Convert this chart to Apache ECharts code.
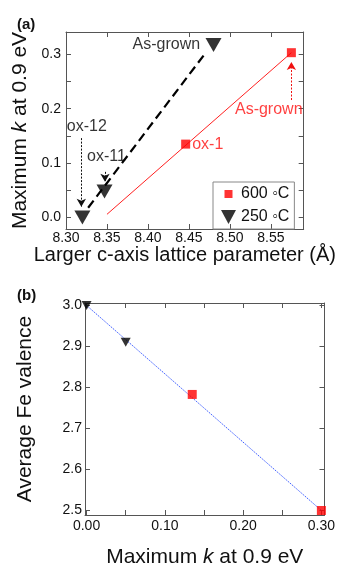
<!DOCTYPE html>
<html><head><meta charset="utf-8">
<script src="https://cdn.jsdelivr.net/npm/echarts@6/dist/echarts.min.js"></script>
<style>html,body{margin:0;padding:0;background:#fff}#c{width:338px;height:569px}</style>
</head><body><div id="c"></div>
<script>
// ---- Panel (a) data ----
const lattice250 = [8.320, 8.347, 8.480];
const kMax250 = [0.000, 0.048, 0.317];
const lattice600 = [8.446, 8.575];
const kMax600 = [0.135, 0.303];
const fit250X = [8.327, 8.470];
const fit250Y = [0.018, 0.302];
const fit600X = [8.350, 8.575];
const fit600Y = [0.006, 0.303];
const aXLabels = [8.30, 8.35, 8.40, 8.45, 8.50, 8.55];
const aYLabels = [0.0, 0.1, 0.2, 0.3];
const aYTicks = [0.0, 0.05, 0.1, 0.15, 0.2, 0.25, 0.3];
// annotations (panel a)
const annText = ['ox-12', 'ox-11', 'As-grown', 'As-grown'];
const annX = [8.326, 8.350, 8.423, 8.548];
const annY = [0.166, 0.111, 0.317, 0.198];
const annColor = ['#000000', '#000000', '#000000', '#ff1010'];
const arrowX = [8.3187, 8.3476, 8.575];
const arrowFromY = [0.146, 0.084, 0.216];
const arrowToY = [0.020, 0.066, 0.286];
const arrowColor = ['#111', '#111', '#f01010'];

// ---- Panel (b) data ----
const kB250 = [0.000, 0.050];
const valence250 = [3.000, 2.910];
const kB600 = [0.135, 0.300];
const valence600 = [2.783, 2.500];
const fitBX = [0.000, 0.300];
const fitBY = [3.000, 2.500];
const bXLabels = [0.00, 0.10, 0.20, 0.30];
const bXTicks = [0.00, 0.05, 0.10, 0.15, 0.20, 0.25, 0.30];
const bYLabels = [2.5, 2.6, 2.7, 2.8, 2.9, 3.0];

const name600 = '600 \u25E6C';
const name250 = '250 \u25E6C';
const zip = (a, b) => a.map((v, i) => [v, b[i]]);
const FONT = '"Liberation Sans", Arial, sans-serif';
const frame = '#555';
const txt = '#111';

function ax(opts) {
  const base = {
    type: 'value',
    scale: true,
    axisLine: {show: true, onZero: false, lineStyle: {color: frame, width: 1}},
    axisTick: {show: true, inside: true, length: 5, lineStyle: {color: frame}},
    splitLine: {show: false},
    axisLabel: {show: true, color: txt, fontSize: 14, fontFamily: FONT},
    nameTextStyle: {color: txt, fontSize: 21, fontFamily: FONT}
  };
  return Object.assign(base, opts, {
    axisTick: Object.assign({}, base.axisTick, opts.axisTick || {}),
    axisLabel: Object.assign({}, base.axisLabel, opts.axisLabel || {}),
    nameTextStyle: Object.assign({}, base.nameTextStyle, opts.nameTextStyle || {})
  });
}
const noLabel = {show: false};
const richName = {
  n: {fontSize: 21, fontFamily: FONT, color: txt},
  i: {fontSize: 21, fontFamily: FONT, color: txt, fontStyle: 'italic'}
};
const triPath = 'path://M0,0L16,0L8,14Z';
const triLegend = 'path://M0,0L15,0L7.5,14Z';
const sqLegend = 'path://M0,0M15,14M3.5,3L11.5,3L11.5,11L3.5,11Z';

const chart = echarts.init(document.getElementById('c'), null, {renderer: 'canvas'});
chart.setOption({
  backgroundColor: '#fff',
  animation: false,
  textStyle: {fontFamily: FONT},
  grid: [
    {left: 66, right: 30, top: 32, bottom: 340, containLabel: false},
    {left: 85, right: 10, top: 303, bottom: 52, containLabel: false}
  ],
  xAxis: [
    ax({gridIndex: 0, position: 'bottom', min: 8.30, max: 8.59,
      name: 'Larger c-axis lattice parameter (\u00C5)', nameLocation: 'middle', nameGap: 16,
      nameTextStyle: {fontSize: 20},
      axisTick: {customValues: aXLabels},
      axisLabel: {customValues: aXLabels, margin: 2, formatter: v => v.toFixed(2)}}),
    ax({gridIndex: 0, position: 'top', min: 8.30, max: 8.59,
      axisTick: {customValues: aXLabels}, axisLabel: noLabel}),
    ax({gridIndex: 1, position: 'bottom', min: -0.002, max: 0.304,
      name: '{n|Maximum }{i|k}{n| at 0.9 eV}', nameLocation: 'middle', nameGap: 32,
      nameTextStyle: {rich: richName},
      axisTick: {customValues: bXTicks},
      axisLabel: {customValues: bXLabels, margin: 4, formatter: v => v.toFixed(2)}}),
    ax({gridIndex: 1, position: 'top', min: -0.002, max: 0.304,
      axisTick: {customValues: bXTicks}, axisLabel: noLabel})
  ],
  yAxis: [
    ax({gridIndex: 0, position: 'left', min: -0.021, max: 0.341,
      name: '{n|Maximum }{i|k}{n| at 0.9 eV}', nameLocation: 'middle', nameGap: 32,
      nameTextStyle: {rich: richName},
      axisTick: {customValues: aYTicks},
      axisLabel: {customValues: aYLabels, margin: 5, formatter: v => v.toFixed(1)}}),
    ax({gridIndex: 0, position: 'right', min: -0.021, max: 0.341,
      axisTick: {customValues: aYTicks}, axisLabel: noLabel}),
    ax({gridIndex: 1, position: 'left', min: 2.489, max: 3.006,
      name: 'Average Fe valence', nameLocation: 'middle', nameGap: 49,
      axisTick: {customValues: bYLabels},
      axisLabel: {customValues: bYLabels, margin: 3, formatter: v => v.toFixed(1)}}),
    ax({gridIndex: 1, position: 'right', min: 2.489, max: 3.006,
      axisTick: {customValues: bYLabels}, axisLabel: noLabel})
  ],
  legend: {
    left: 213, top: 182, orient: 'vertical',
    borderColor: '#888', borderWidth: 1, padding: [4, 5, 4, 8],
    itemWidth: 15, itemHeight: 14, itemGap: 7,
    textStyle: {fontSize: 16, color: txt, fontFamily: FONT},
    data: [
      {name: name600, icon: sqLegend, itemStyle: {color: '#ff0000'}},
      {name: name250, icon: triLegend, itemStyle: {color: '#000'}}
    ]
  },
  graphic: [
    {type: 'text', left: 17, top: 17, style: {text: '(a)', font: 'bold 15px ' + FONT, fill: txt}},
    {type: 'text', left: 17, top: 288, style: {text: '(b)', font: 'bold 15px ' + FONT, fill: txt}}
  ],
  series: [
    // panel (a)
    {type: 'line', xAxisIndex: 0, yAxisIndex: 0, data: zip(fit600X, fit600Y), symbol: 'none',
      lineStyle: {color: '#ff2020', width: 1}, silent: true, z: 2},
    {type: 'line', xAxisIndex: 0, yAxisIndex: 0, data: zip(fit250X, fit250Y), symbol: 'none',
      lineStyle: {color: '#000', width: 2.2, type: [9, 5]}, silent: true, z: 2},
    {name: name600, type: 'scatter', xAxisIndex: 0, yAxisIndex: 0, clip: false,
      data: zip(lattice600, kMax600).map((p, i) => ({value: p, label: {show: i === 0}})),
      symbol: 'rect', symbolSize: 9, itemStyle: {color: '#ff0000'},
      label: {position: 'right', distance: 2, formatter: 'ox-1', color: '#ff1010', fontSize: 16, fontFamily: FONT}, z: 5},
    {name: name250, type: 'scatter', xAxisIndex: 0, yAxisIndex: 0, clip: false,
      data: zip(lattice250, kMax250), symbol: triPath, symbolSize: [16, 14],
      itemStyle: {color: '#000'}, z: 5},
    // annotation texts
    {type: 'scatter', xAxisIndex: 0, yAxisIndex: 0, silent: true, clip: false, symbolSize: 1,
      data: annText.map((t, i) => ({value: [annX[i], annY[i]], name: t,
        itemStyle: {color: 'rgba(0,0,0,0)'},
        label: {color: annColor[i]}})),
      label: {show: true, position: [0, 0], align: 'center', verticalAlign: 'middle',
        formatter: '{b}', fontSize: 16, fontFamily: FONT, textBorderWidth: 0}, z: 6},
    // arrows
    {type: 'line', xAxisIndex: 0, yAxisIndex: 0, data: [], silent: true,
      markLine: {
        silent: true, animation: false, symbol: ['none', 'arrow'], symbolSize: [7, 8],
        label: {show: false},
        data: arrowX.map((x, i) => [
          {coord: [x, arrowFromY[i]], lineStyle: {color: arrowColor[i], type: [2, 1.5], width: 1}},
          {coord: [x, arrowToY[i]]}
        ])
      }},
    // panel (b)
    {type: 'line', xAxisIndex: 2, yAxisIndex: 2, data: zip(fitBX, fitBY), symbol: 'none',
      lineStyle: {color: '#4060ff', width: 1, type: [1.5, 1]}, silent: true, z: 2},
    {name: name250, type: 'scatter', xAxisIndex: 2, yAxisIndex: 2, clip: false,
      data: zip(kB250, valence250), symbol: triPath, symbolSize: [10, 9],
      itemStyle: {color: '#000'}, z: 5},
    {name: name600, type: 'scatter', xAxisIndex: 2, yAxisIndex: 2, clip: false,
      data: zip(kB600, valence600), symbol: 'rect', symbolSize: 9,
      itemStyle: {color: '#ff0000'}, z: 5}
  ]
});
</script></body></html>
